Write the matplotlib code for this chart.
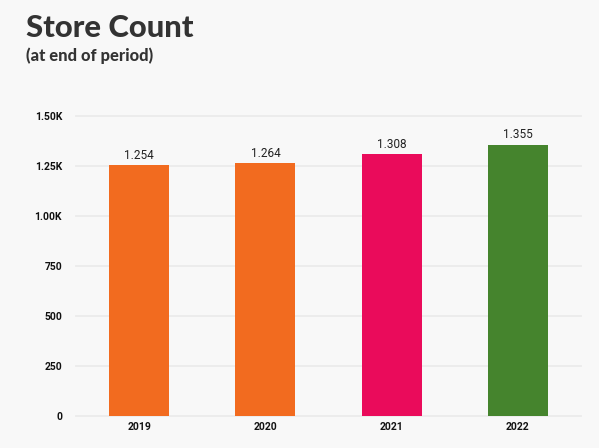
import matplotlib
matplotlib.use("Agg")
import matplotlib.pyplot as plt

years = ["2019", "2020", "2021", "2022"]
stores = [1254, 1264, 1308, 1355]
bar_colors = ["#F26B1F", "#F26B1F", "#EA0B5B", "#45842D"]
ytick_vals = [0, 250, 500, 750, 1000, 1250, 1500]
ytick_labels = ["0", "250", "500", "750", "1.00K", "1.25K", "1.50K"]

plt.rcParams['font.family'] = ['Roboto', 'DejaVu Sans']
bg = "#F8F8F8"
fig = plt.figure(figsize=(5.99, 4.48), dpi=100, facecolor=bg)
ax = fig.add_axes([76/599, 1-416/448, (581-76)/599, (416-116)/448], facecolor=bg)

x = list(range(len(years)))
ax.bar(x, stores, width=0.476, color=bar_colors, zorder=3)
for xi, v in zip(x, stores):
    ax.text(xi, v + 18, f"{v/1000:.3f}", ha="center", va="bottom",
            fontsize=8.5, color="#222222", zorder=4)

ax.set_xlim(-0.5, len(years) - 0.5)
ax.set_ylim(0, 1500)
ax.set_yticks(ytick_vals)
ax.set_yticklabels(ytick_labels)
ax.set_xticks(x)
ax.set_xticklabels(years)
for lab in ax.get_xticklabels() + ax.get_yticklabels():
    lab.set_fontweight("bold")
    lab.set_fontsize(7.5)
    lab.set_color("#111111")
ax.tick_params(axis="both", length=0)
ax.tick_params(axis="y", pad=10)
ax.tick_params(axis="x", pad=4)
ax.grid(axis="y", color="#EBEBEB", linewidth=1.3, zorder=0)
for gl in ax.get_ygridlines():
    gl.set_clip_on(False)
for s in ax.spines.values():
    s.set_visible(False)

fig.text(26/599, 1-37/448, "Store Count", fontsize=22.3, fontweight="black",
         color="#333333", ha="left", va="baseline", family=["Lato", "DejaVu Sans"])
fig.text(26/599, 1-61/448, "(at end of period)", fontsize=11.9, fontweight="black",
         color="#333333", ha="left", va="baseline", family=["Lato", "DejaVu Sans"])

fig.savefig("out.png", dpi=100, facecolor=bg)
